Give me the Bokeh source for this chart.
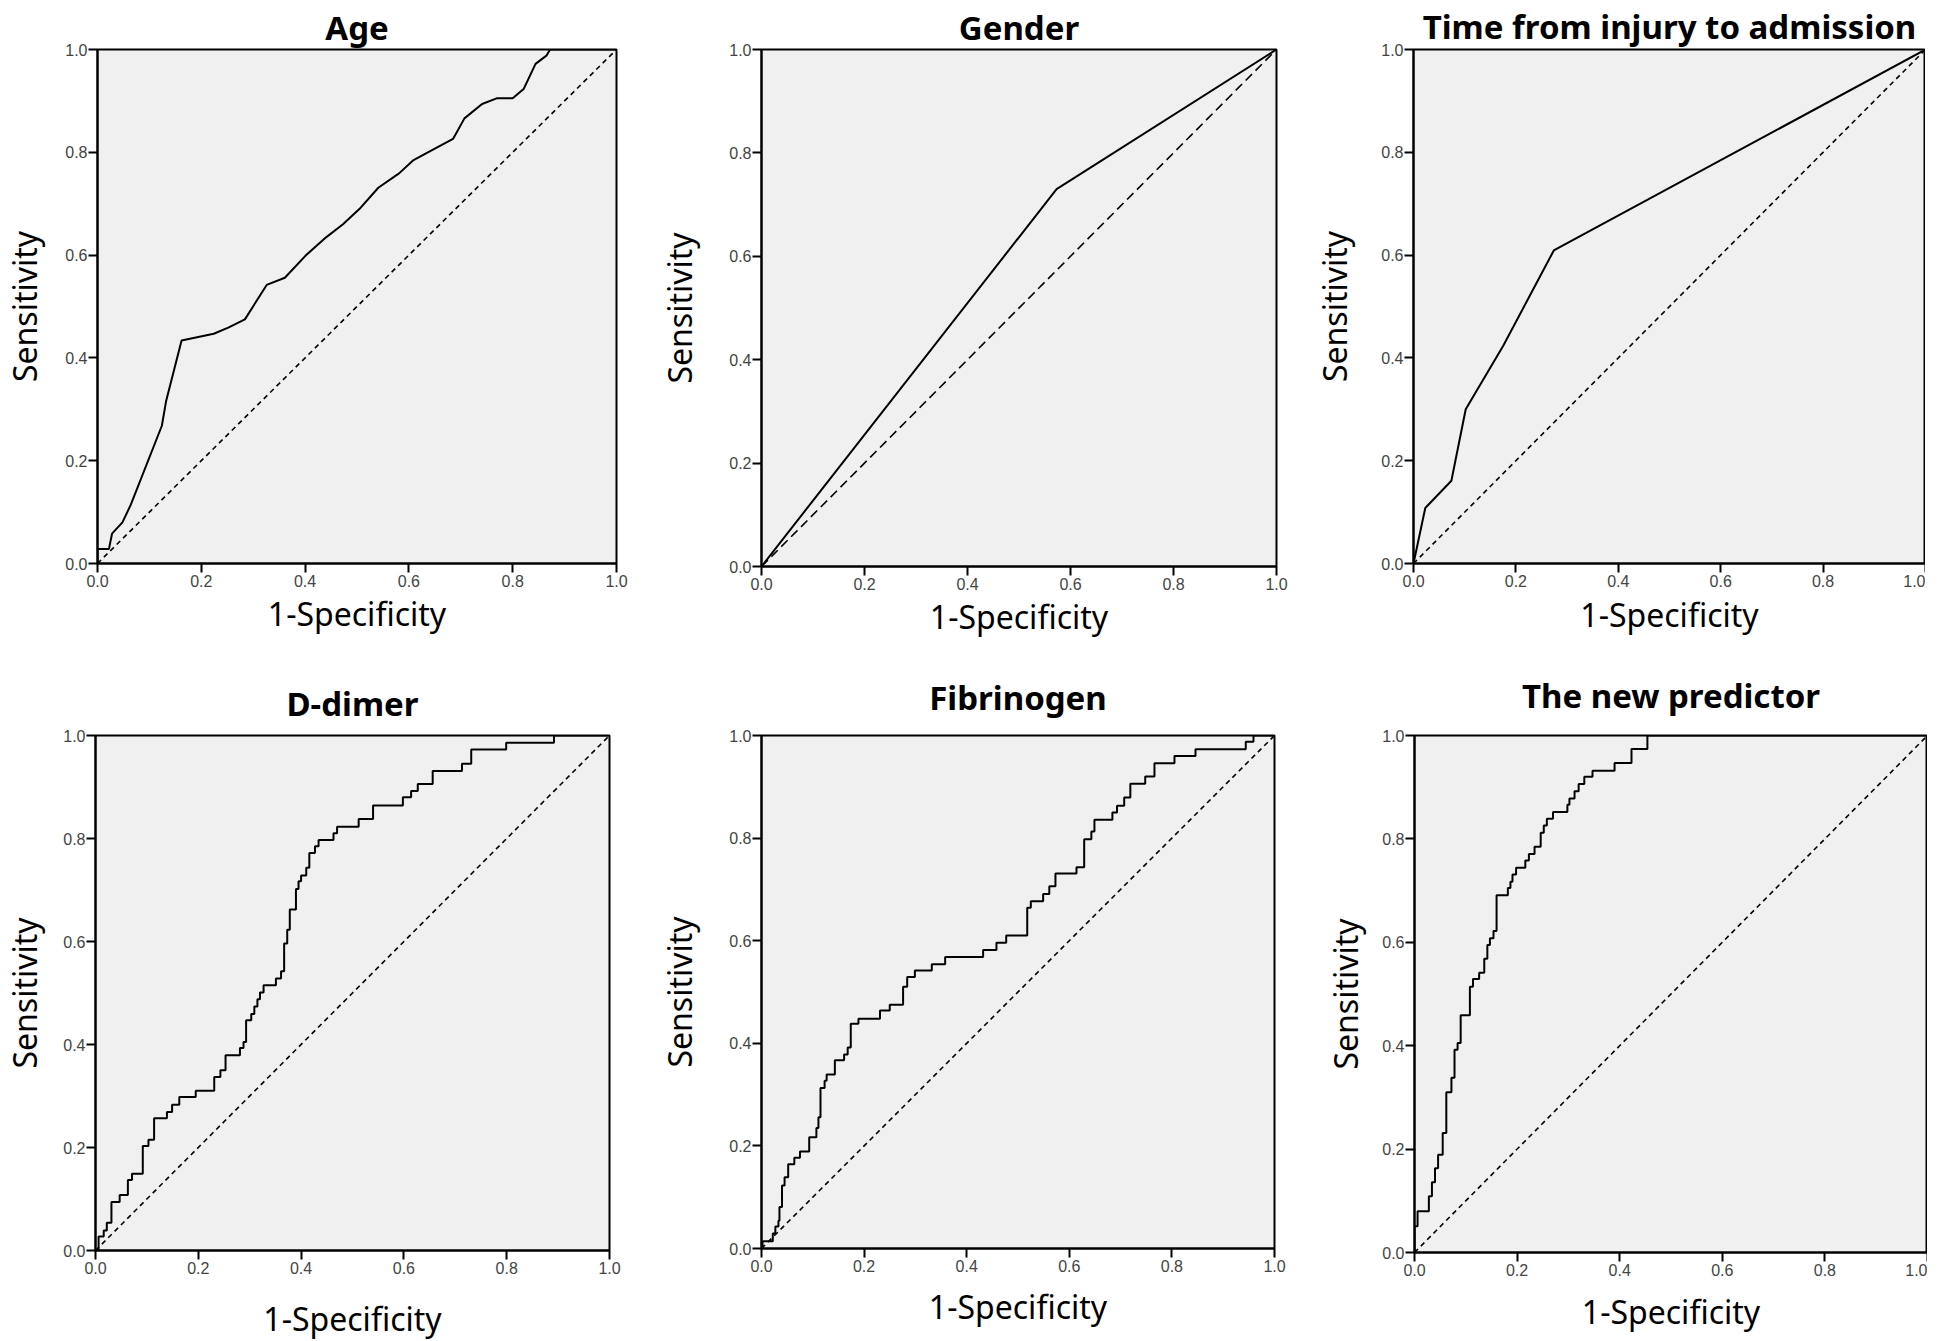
from bokeh.plotting import figure
from bokeh.layouts import row, column
from bokeh.models import Range1d, FixedTicker, NumeralTickFormatter
from bokeh.embed import file_html
from bokeh.resources import INLINE

# ---------------- data ----------------
TITLES = ["Age", "Gender", "Time from injury to admission",
          "D-dimer", "Fibrinogen", "The new predictor"]
X_LABEL = "1-Specificity"
Y_LABEL = "Sensitivity"
TICKS = [0.0, 0.2, 0.4, 0.6, 0.8, 1.0]
TICK_LABELS = ["0.0", "0.2", "0.4", "0.6", "0.8", "1.0"]
REF_LINE = [0.0, 1.0]

AGE_FPR = [0.0, 0.0, 0.022, 0.028, 0.048, 0.064, 0.124, 0.132, 0.162, 0.224,
           0.252, 0.284, 0.326, 0.361, 0.401, 0.441, 0.473, 0.505, 0.541, 0.581,
           0.609, 0.633, 0.685, 0.707, 0.741, 0.769, 0.800, 0.821, 0.844, 0.865,
           0.872, 1.0]
AGE_TPR = [0.0, 0.028, 0.028, 0.058, 0.080, 0.114, 0.268, 0.315, 0.434, 0.447,
           0.459, 0.475, 0.542, 0.556, 0.599, 0.635, 0.660, 0.690, 0.731, 0.759,
           0.785, 0.798, 0.826, 0.866, 0.894, 0.905, 0.905, 0.923, 0.972, 0.988,
           1.0, 1.0]

GENDER_FPR = [0.0, 0.573, 1.0]
GENDER_TPR = [0.0, 0.730, 1.0]

TIME_FPR = [0.0, 0.023, 0.074, 0.102, 0.175, 0.274, 1.0]
TIME_TPR = [0.0, 0.108, 0.161, 0.300, 0.423, 0.609, 1.0]

DDIMER_FPR = [0.0, 0.006, 0.016, 0.022, 0.031, 0.047, 0.063, 0.071, 0.092, 0.103,
              0.114, 0.139, 0.149, 0.163, 0.195, 0.231, 0.243, 0.253, 0.281, 0.288,
              0.293, 0.303, 0.309, 0.315, 0.320, 0.327, 0.351, 0.361, 0.367, 0.373,
              0.378, 0.390, 0.395, 0.400, 0.410, 0.416, 0.427, 0.434, 0.463, 0.470,
              0.512, 0.540, 0.598, 0.614, 0.627, 0.656, 0.713, 0.731, 0.799, 0.892,
              1.0]
DDIMER_TPR = [0.0, 0.027, 0.039, 0.054, 0.094, 0.108, 0.137, 0.149, 0.203, 0.215,
              0.257, 0.269, 0.283, 0.298, 0.310, 0.337, 0.350, 0.379, 0.393, 0.405,
              0.447, 0.459, 0.474, 0.488, 0.501, 0.515, 0.528, 0.542, 0.596, 0.623,
              0.662, 0.702, 0.717, 0.728, 0.743, 0.772, 0.785, 0.797, 0.810, 0.823,
              0.838, 0.864, 0.880, 0.892, 0.906, 0.931, 0.945, 0.973, 0.986, 1.0,
              1.0]

FIB_FPR = [0.0, 0.002, 0.022, 0.027, 0.033, 0.035, 0.040, 0.045, 0.052, 0.064,
           0.075, 0.093, 0.107, 0.111, 0.115, 0.123, 0.127, 0.143, 0.161, 0.168,
           0.174, 0.189, 0.231, 0.250, 0.276, 0.284, 0.299, 0.332, 0.358, 0.432,
           0.458, 0.477, 0.518, 0.525, 0.549, 0.561, 0.573, 0.614, 0.629, 0.643,
           0.649, 0.684, 0.693, 0.707, 0.719, 0.748, 0.766, 0.805, 0.846, 0.944,
           0.959, 1.0]
FIB_TPR = [0.0, 0.014, 0.029, 0.043, 0.054, 0.081, 0.123, 0.139, 0.164, 0.177,
           0.189, 0.217, 0.235, 0.256, 0.313, 0.327, 0.339, 0.367, 0.378, 0.392,
           0.438, 0.448, 0.464, 0.475, 0.510, 0.529, 0.542, 0.554, 0.568, 0.582,
           0.596, 0.610, 0.664, 0.677, 0.691, 0.706, 0.731, 0.743, 0.798, 0.813,
           0.836, 0.850, 0.863, 0.879, 0.906, 0.920, 0.946, 0.960, 0.973, 0.988,
           1.0, 1.0]

NEW_FPR = [0.0, 0.0, 0.006, 0.028, 0.034, 0.040, 0.046, 0.055, 0.062, 0.072,
           0.078, 0.084, 0.090, 0.108, 0.114, 0.126, 0.136, 0.142, 0.147, 0.154,
           0.160, 0.182, 0.187, 0.191, 0.198, 0.216, 0.223, 0.234, 0.246, 0.252,
           0.258, 0.270, 0.298, 0.302, 0.312, 0.320, 0.331, 0.347, 0.390, 0.423,
           0.454, 1.0]
NEW_TPR = [0.0, 0.051, 0.080, 0.109, 0.136, 0.163, 0.189, 0.231, 0.310, 0.338,
           0.392, 0.405, 0.459, 0.514, 0.529, 0.541, 0.568, 0.595, 0.608, 0.622,
           0.691, 0.705, 0.717, 0.731, 0.744, 0.758, 0.771, 0.785, 0.812, 0.826,
           0.839, 0.852, 0.866, 0.878, 0.892, 0.906, 0.920, 0.932, 0.947, 0.974,
           1.0, 1.0]

CURVES = [(AGE_FPR, AGE_TPR, False), (GENDER_FPR, GENDER_TPR, False),
          (TIME_FPR, TIME_TPR, False), (DDIMER_FPR, DDIMER_TPR, True),
          (FIB_FPR, FIB_TPR, True), (NEW_FPR, NEW_TPR, True)]

# ---------------- layout / style ----------------
LAYOUT = [
    dict(bl=86, br=39, bt=41, bb=85, fw=519, fh=514, ys=16, xs=2, ts=0, dash="5 4"),
    dict(bl=95, br=34, bt=42, bb=81, fw=515, fh=517, ys=25, xs=2, ts=0, dash="9 5"),
    dict(bl=92, br=0, bt=44, bb=82, fw=512, fh=514, ys=22, xs=3, ts=2, dash="5 4"),
    dict(bl=84, br=46, bt=89, bb=81, fw=514, fh=515, ys=14, xs=20, ts=19, dash="5 4"),
    dict(bl=95, br=47, bt=85, bb=87, fw=513, fh=513, ys=25, xs=10, ts=32, dash="5 4"),
    dict(bl=82, br=0, bt=86, bb=82, fw=513, fh=517, ys=12, xs=11, ts=35, dash="5 4"),
]

TITLE_FONT = "Noto Sans"
LABEL_FONT = "Noto Sans"
TICK_FONT = "Liberation Sans"


def make_panel(title, fpr, tpr, stepped, lay):
    p = figure(frame_width=lay["fw"], frame_height=lay["fh"],
               min_border_left=lay["bl"], min_border_right=lay["br"],
               min_border_top=lay["bt"], min_border_bottom=lay["bb"],
               x_range=Range1d(0, 1), y_range=Range1d(0, 1),
               output_backend="svg", toolbar_location=None, title=title)
    p.title.align = "center"
    p.title.text_font = TITLE_FONT
    p.title.text_font_style = "bold"
    p.title.text_font_size = "33px"
    p.title.text_color = "black"
    p.title.standoff = lay["ts"]
    p.background_fill_color = "#f0f0f0"
    p.border_fill_color = "white"
    p.outline_line_color = "black"
    p.outline_line_width = 2
    p.outline_line_alpha = 1.0
    p.grid.visible = False

    for ax in (p.xaxis[0], p.yaxis[0]):
        ax.ticker = FixedTicker(ticks=TICKS)
        ax.formatter = NumeralTickFormatter(format="0.0")
        ax.major_label_overrides = {t: l for t, l in zip(TICKS, TICK_LABELS)}
        ax.major_label_text_font = TICK_FONT
        ax.major_label_text_font_size = "16px"
        ax.major_label_text_color = "#444444"
        ax.minor_tick_line_color = None
        ax.major_tick_in = 0
        ax.major_tick_out = 9
        ax.major_tick_line_width = 2
        ax.major_tick_line_color = "black"
        ax.axis_line_color = "black"
        ax.axis_line_width = 2
        ax.axis_label_text_font = LABEL_FONT
        ax.axis_label_text_font_style = "normal"
        ax.axis_label_text_font_size = "32px"
        ax.axis_label_text_color = "black"
    p.xaxis.axis_label = X_LABEL
    p.yaxis.axis_label = Y_LABEL
    p.xaxis.major_label_standoff = 2
    p.yaxis.major_label_standoff = 1
    p.xaxis.axis_label_standoff = lay["xs"]
    p.yaxis.axis_label_standoff = lay["ys"]

    p.line(REF_LINE, REF_LINE, line_color="black", line_width=1.6,
           line_dash=lay["dash"])
    if stepped:
        p.step(fpr, tpr, mode="after", line_color="black", line_width=2)
    else:
        p.line(fpr, tpr, line_color="black", line_width=2)
    return p


figs = [make_panel(t, c[0], c[1], c[2], lay)
        for t, c, lay in zip(TITLES, CURVES, LAYOUT)]
layout = column(row(*figs[:3]), row(*figs[3:]))

open("out.html", "w").write(file_html(layout, INLINE))
